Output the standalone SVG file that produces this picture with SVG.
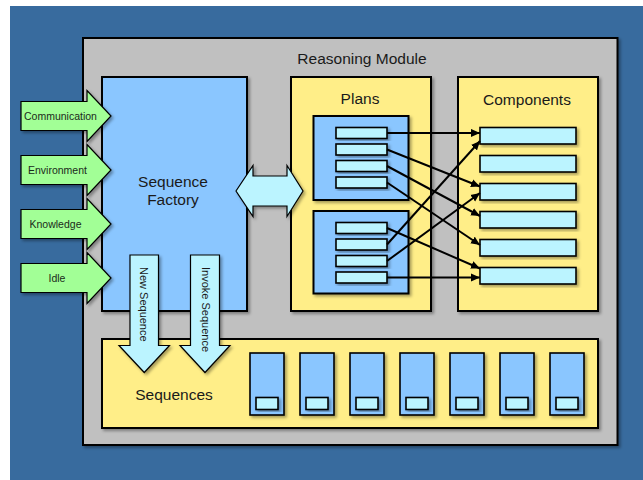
<svg xmlns="http://www.w3.org/2000/svg" width="643" height="480" viewBox="0 0 643 480">
<defs>
<filter id="sh" x="-10%" y="-10%" width="130%" height="130%">
<feDropShadow dx="2" dy="2" stdDeviation="1.5" flood-color="#000" flood-opacity="0.35"/>
</filter>
<marker id="ah" viewBox="0 0 10 10" refX="10" refY="5" markerWidth="9" markerHeight="9" markerUnits="userSpaceOnUse" orient="auto">
<path d="M0,0.5 L10,5 L0,9.5 Z" fill="#000"/>
</marker>
</defs>
<style>
.box{stroke:#000;stroke-width:2;filter:url(#sh)}
.gray{fill:#c0c0c0}
.yel{fill:#ffee88}
.blu{fill:#8ac6ff}
.cy{fill:#bbf4ff;stroke:#000;stroke-width:1.6;filter:url(#sh)}
.slot{fill:#8ac6ff;stroke:#000;stroke-width:1.6;filter:url(#sh)}
.grn{fill:#a2ff96;stroke:#000;stroke-width:1.2;filter:url(#sh)}
.big{fill:#bbf4ff;stroke:#000;stroke-width:1.2;filter:url(#sh)}
.lbl{font-family:"Liberation Sans",Arial,sans-serif;font-size:15.5px;fill:#1a1a1a;text-anchor:middle}
.sm{font-family:"Liberation Sans",Arial,sans-serif;font-size:10.5px;fill:#1a2a1a;text-anchor:middle}
.rot{font-family:"Liberation Sans",Arial,sans-serif;font-size:11px;fill:#1a1a1a}
.con{stroke:#000;stroke-width:2;fill:none;marker-end:url(#ah)}
</style>
<rect x="10" y="6" width="633" height="474" fill="#386b9e"/>

<g id="reasoning-module">
<rect class="box gray" x="83" y="38" width="534.5" height="407"/>
<text class="lbl" x="362" y="64">Reasoning Module</text>
</g>

<g id="sequence-factory">
<rect class="box blu" x="102" y="77" width="145" height="234"/>
<text class="lbl" x="173" y="187">Sequence</text>
<text class="lbl" x="173" y="204.5">Factory</text>
</g>

<g id="plans">
<rect class="box yel" x="291" y="77" width="140" height="234"/>
<text class="lbl" x="360" y="103.5">Plans</text>
<rect class="box blu" x="313.5" y="116" width="95" height="84"/>
<rect class="box blu" x="313.5" y="211" width="95" height="82.5"/>
<rect class="cy" x="336" y="127.5" width="51" height="11"/>
<rect class="cy" x="336" y="144" width="51" height="11"/>
<rect class="cy" x="336" y="160.5" width="51" height="11"/>
<rect class="cy" x="336" y="177" width="51" height="11"/>
<rect class="cy" x="336" y="222.5" width="51" height="11"/>
<rect class="cy" x="336" y="239" width="51" height="11"/>
<rect class="cy" x="336" y="255.5" width="51" height="11"/>
<rect class="cy" x="336" y="272" width="51" height="11"/>
</g>

<g id="components">
<rect class="box yel" x="458" y="77" width="140" height="234"/>
<text class="lbl" x="527" y="105">Components</text>
<rect class="cy" x="480" y="127.5" width="96" height="16.5"/>
<rect class="cy" x="480" y="155.5" width="96" height="16.5"/>
<rect class="cy" x="480" y="183.5" width="96" height="16.5"/>
<rect class="cy" x="480" y="211.5" width="96" height="16.5"/>
<rect class="cy" x="480" y="239.5" width="96" height="16.5"/>
<rect class="cy" x="480" y="267.5" width="96" height="16.5"/>
</g>

<g id="sequences">
<rect class="box yel" x="102" y="339" width="496" height="89"/>
<text class="lbl" x="174" y="400">Sequences</text>
<rect class="slot" x="250" y="353" width="34" height="62"/><rect class="cy" x="256" y="397.5" width="22" height="12"/>
<rect class="slot" x="300" y="353" width="34" height="62"/><rect class="cy" x="306" y="397.5" width="22" height="12"/>
<rect class="slot" x="350" y="353" width="34" height="62"/><rect class="cy" x="356" y="397.5" width="22" height="12"/>
<rect class="slot" x="400" y="353" width="34" height="62"/><rect class="cy" x="406" y="397.5" width="22" height="12"/>
<rect class="slot" x="450" y="353" width="34" height="62"/><rect class="cy" x="456" y="397.5" width="22" height="12"/>
<rect class="slot" x="500" y="353" width="34" height="62"/><rect class="cy" x="506" y="397.5" width="22" height="12"/>
<rect class="slot" x="550" y="353" width="34" height="62"/><rect class="cy" x="556" y="397.5" width="22" height="12"/>
</g>

<g id="inputs">
<path class="grn" d="M21,101.5 H87 V90.5 L111,116 L87,141.5 V130.5 H21 Z"/>
<text class="sm" x="60.5" y="119.5">Communication</text>
<path class="grn" d="M21,155.5 H87 V144.5 L111,170 L87,195.5 V184.5 H21 Z"/>
<text class="sm" x="57.5" y="173.5">Environment</text>
<path class="grn" d="M21,209.5 H87 V198.5 L111,224 L87,249.5 V238.5 H21 Z"/>
<text class="sm" x="55.5" y="227.5">Knowledge</text>
<path class="grn" d="M21,263.5 H87 V252.5 L111,278 L87,303.5 V292.5 H21 Z"/>
<text class="sm" x="57" y="281.5">Idle</text>
</g>

<g id="connectors">
<path class="big" d="M236,191 L253,165.5 V176 H287 V165.5 L303,191 L287,216.5 V206 H253 V216.5 Z"/>
<path class="big" d="M130,255 H158.5 V345.5 H169.5 L144.25,372.5 L119,345.5 H130 Z"/>
<text class="rot" transform="translate(140,267) rotate(90)">New Sequence</text>
<path class="big" d="M190.5,255 H219.5 V345.5 H230 L205,372.5 L180,345.5 H190.5 Z"/>
<text class="rot" transform="translate(201.5,267) rotate(90)">Invoke Sequence</text>
<line class="con" x1="387" y1="133" x2="480" y2="133"/>
<line class="con" x1="387" y1="149.5" x2="480" y2="186.5"/>
<line class="con" x1="387" y1="166" x2="480" y2="216"/>
<line class="con" x1="387" y1="182.5" x2="480" y2="245"/>
<line class="con" x1="387" y1="228" x2="480" y2="268.5"/>
<line class="con" x1="387" y1="244.5" x2="480" y2="141"/>
<line class="con" x1="387" y1="261" x2="480" y2="193"/>
<line class="con" x1="387" y1="277.5" x2="480" y2="277.5"/>
</g>
</svg>
